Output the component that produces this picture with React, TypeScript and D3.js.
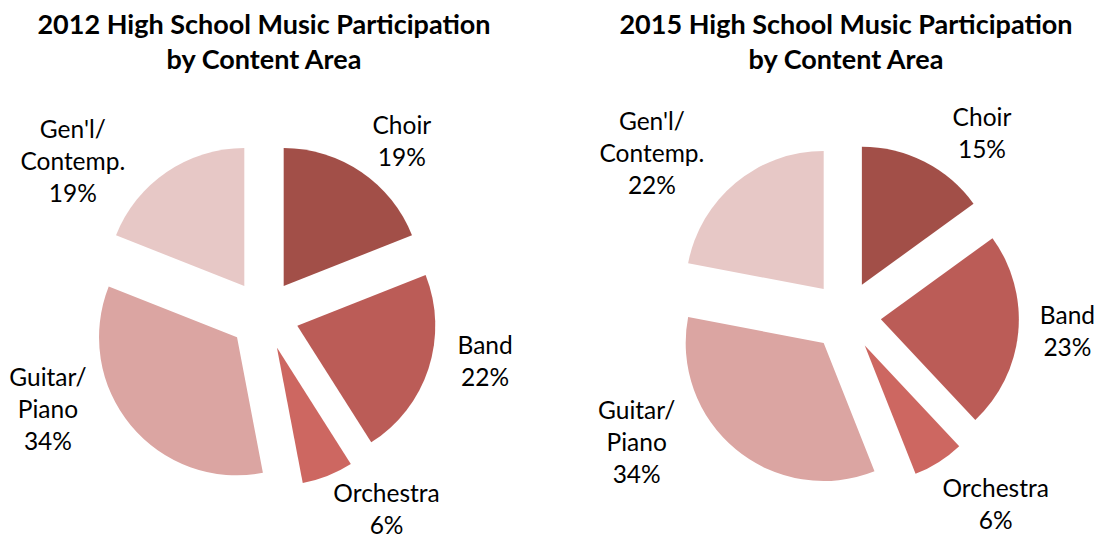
import React from "react";
import * as d3 from "d3";

const categories = ["Choir", "Band", "Orchestra", "Guitar/Piano", "Gen'l/Contemp."];
const labelLines = [["Choir"], ["Band"], ["Orchestra"], ["Guitar/", "Piano"], ["Gen'l/", "Contemp."]];
const values2012 = [19, 22, 6, 34, 19];
const values2015 = [15, 23, 6, 34, 22];
const titles2012 = ["2012 High School Music Participation", "by Content Area"];
const titles2015 = ["2015 High School Music Participation", "by Content Area"];
const colors = ["#A24F48", "#BB5C57", "#CD6761", "#DBA5A2", "#E7C8C6"];

// layout: label polar positions (degrees clockwise from top, distance from center)
const labelPolar2012 = [[38.6, 221], [101.9, 226], [147.8, 230], [246.3, 236], [308.7, 245]];
const labelPolar2015 = [[36.8, 227], [94.1, 222], [141.6, 241], [238.7, 245], [309.9, 253]];

const FONT = "Lato, 'Open Sans', sans-serif";
const R = 138;
const EXPLODE = 35;
const LINE_H = 32;

function Pie({ cx, cy, values, titles, labelPolar }: any) {
  const pie = d3.pie<number>().sort(null).value((d) => d)(values);
  const arc = d3.arc<any>().innerRadius(0).outerRadius(R);
  return (
    <g>
      {titles.map((t: string, i: number) => (
        <text key={"t" + i} x={cx} y={34 + i * 35} textAnchor="middle"
          fontFamily={FONT} fontWeight="bold" fontSize={27} fill="#000">{t}</text>
      ))}
      <g transform={`translate(${cx},${cy})`}>
        {pie.map((s, i) => {
          const mid = (s.startAngle + s.endAngle) / 2;
          const dx = Math.sin(mid) * EXPLODE;
          const dy = -Math.cos(mid) * EXPLODE;
          return (
            <path key={i} d={arc(s) as string} fill={colors[i]}
              transform={`translate(${dx},${dy})`} />
          );
        })}
        {pie.map((s, i) => {
          const [deg, dist] = labelPolar[i];
          const a = (deg * Math.PI) / 180;
          const lx = Math.sin(a) * dist;
          const ly = -Math.cos(a) * dist;
          const lines = [...labelLines[i], `${values[i]}%`];
          const n = lines.length;
          return (
            <text key={"l" + i} textAnchor="middle" fontFamily={FONT} fontSize={24.5} fill="#000">
              {lines.map((ln, j) => (
                <tspan key={j} x={lx} y={ly + (j - (n - 1) / 2) * LINE_H + 8}>{ln}</tspan>
              ))}
            </text>
          );
        })}
      </g>
    </g>
  );
}

export default function App() {
  return (
    <svg width={1096} height={535} style={{ position: "absolute", left: 0, top: 0, background: "#fff" }}>
      <rect width={1096} height={535} fill="#fff" />
      <Pie cx={264} cy={315} values={values2012} titles={titles2012} labelPolar={labelPolar2012} />
      <Pie cx={846} cy={316} values={values2015} titles={titles2015} labelPolar={labelPolar2015} />
    </svg>
  );
}
